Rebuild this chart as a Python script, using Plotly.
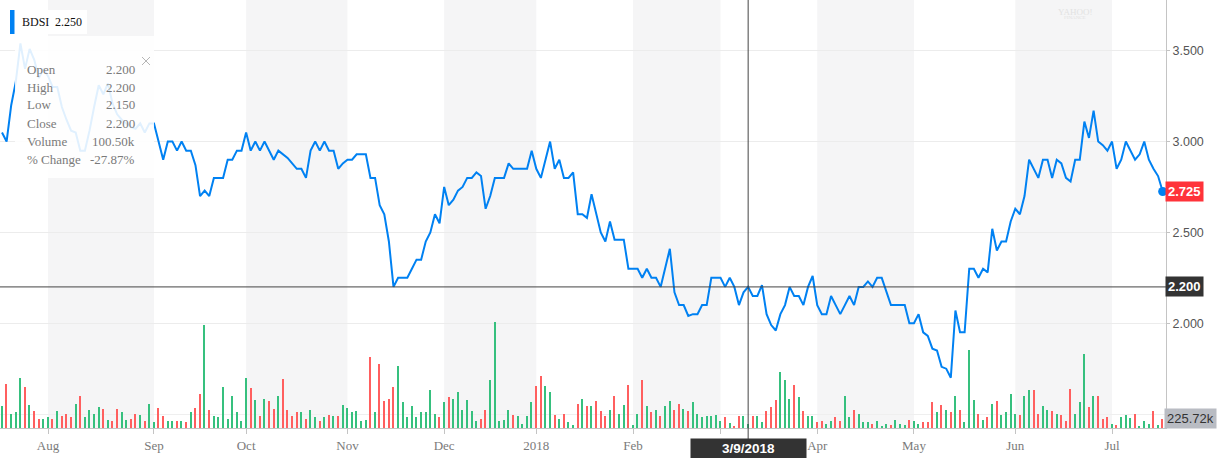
import plotly.graph_objects as go
import pandas as pd

# ---------------- data ----------------
ticker = "BDSI"
legend_value = "2.250"
start_date = "2017-07-18"
end_date = "2018-07-18"
holidays = ["2017-09-04", "2017-11-23", "2017-12-25", "2018-01-01", "2018-01-15",
            "2018-02-19", "2018-03-30", "2018-05-28", "2018-07-04"]

close = [
    3.05, 3.00, 3.20, 3.33, 3.54, 3.40, 3.51, 3.45, 3.35, 3.40,
    3.36, 3.30, 3.30, 3.19, 3.12, 3.06, 3.05, 2.95, 2.95, 3.06,
    3.19, 3.31, 3.26, 3.32, 3.21, 3.15, 3.12, 3.10, 3.08, 3.07,
    3.10, 3.05, 3.10, 3.10, 3.00, 2.90, 3.00, 3.00, 2.95, 3.00,
    2.95, 2.95, 2.87, 2.70, 2.73, 2.70, 2.80, 2.80, 2.80, 2.90,
    2.90, 2.95, 2.95, 3.05, 2.95, 3.00, 2.95, 3.00, 2.95, 2.90,
    2.95, 2.93, 2.91, 2.88, 2.85, 2.85, 2.80, 2.95, 3.00, 2.95,
    3.00, 2.95, 2.95, 2.85, 2.88, 2.90, 2.90, 2.93, 2.93, 2.93,
    2.80, 2.80, 2.65, 2.60, 2.45, 2.20, 2.25, 2.25, 2.25, 2.30,
    2.35, 2.35, 2.45, 2.50, 2.60, 2.55, 2.75, 2.65, 2.68, 2.73,
    2.75, 2.80, 2.80, 2.83, 2.81, 2.63, 2.70, 2.80, 2.80, 2.80,
    2.88, 2.85, 2.85, 2.85, 2.85, 2.95, 2.85, 2.80, 2.90, 3.00,
    2.85, 2.90, 2.80, 2.80, 2.83, 2.60, 2.60, 2.58, 2.71, 2.60,
    2.50, 2.45, 2.56, 2.46, 2.46, 2.46, 2.30, 2.30, 2.30, 2.25,
    2.30, 2.25, 2.25, 2.20, 2.31, 2.41, 2.17, 2.10, 2.10, 2.04,
    2.05, 2.05, 2.10, 2.10, 2.25, 2.25, 2.25, 2.20, 2.25, 2.20,
    2.10, 2.17, 2.20, 2.15, 2.15, 2.21, 2.05, 1.99, 1.96, 2.05,
    2.10, 2.20, 2.15, 2.15, 2.10, 2.20, 2.26, 2.10, 2.05, 2.05,
    2.15, 2.10, 2.05, 2.10, 2.15, 2.10, 2.20, 2.20, 2.23, 2.20,
    2.25, 2.25, 2.18, 2.10, 2.10, 2.10, 2.10, 2.00, 2.00, 2.05,
    1.95, 1.93, 1.86, 1.85, 1.76, 1.75, 1.70, 2.07, 1.95, 1.95,
    2.30, 2.30, 2.25, 2.30, 2.28, 2.52, 2.40, 2.45, 2.45, 2.56,
    2.63, 2.60, 2.70, 2.90, 2.85, 2.80, 2.90, 2.90, 2.80, 2.90,
    2.88, 2.80, 2.78, 2.90, 2.90, 3.11, 3.02, 3.17, 3.00, 2.98,
    2.95, 3.00, 2.85, 2.90, 3.00, 2.95, 2.90, 2.93, 3.00, 2.90,
    2.85, 2.81, 2.725,
]

volume_k = [
    543, 1100, 358, 393, 1243, 1018, 568, 418, 233, 233,
    268, 233, 418, 308, 358, 268, 593, 793, 268, 443,
    358, 518, 483, 208, 183, 483, 393, 208, 233, 358,
    333, 183, 593, 143, 508, 308, 168, 168, 183, 183,
    143, 393, 508, 858, 2575, 443, 308, 268, 1018, 233,
    793, 393, 183, 1243, 993, 708, 293, 733, 683, 483,
    808, 1218, 458, 293, 393, 393, 233, 458, 268, 168,
    268, 333, 293, 293, 568, 508, 393, 418, 183, 208,
    1768, 393, 1593, 668, 733, 1018, 1543, 643, 268, 543,
    268, 393, 393, 943, 358, 268, 643, 768, 733, 893,
    458, 708, 418, 183, 233, 458, 1193, 2650, 183, 208,
    443, 333, 293, 108, 308, 643, 1043, 1293, 1058, 893,
    333, 233, 358, 143, 83, 608, 733, 543, 543, 683,
    418, 308, 458, 793, 358, 583, 1068, 83, 358, 1208,
    543, 393, 458, 308, 543, 668, 458, 608, 483, 418,
    643, 358, 268, 293, 308, 333, 183, 275, 125, 58,
    293, 308, 100.5, 293, 308, 143, 418, 518, 693, 1393,
    1208, 733, 1068, 768, 418, 293, 293, 143, 183, 108,
    168, 275, 183, 793, 268, 458, 358, 143, 143, 108,
    168, 58, 108, 68, 193, 108, 83, 208, 183, 108,
    143, 143, 643, 393, 583, 458, 393, 808, 443, 143,
    1958, 708, 358, 208, 268, 608, 668, 333, 393, 850,
    358, 333, 793, 958, 943, 358, 543, 458, 418, 358,
    333, 168, 983, 358, 643, 1858, 518, 808, 793, 233,
    268, 108, 83, 268, 333, 250, 358, 58, 183, 108,
    418, 83, 225.72,
]

# G = up day (green bar), R = down day (red bar)
vol_dir = ("GRGGGRGRRG" "GRGRRRGRGG" "GGRGRRGGRR" "GRGGRRGGRG" "RGRRGRGGGG"
           "GGGGRGRGRR" "GRRRRGRGGR" "GRGRGGGGGG" "RGRRRRGGGG" "GGGGGRGRGG"
           "GGGGRRGGGG" "GRGGGGRRGG" "RGRGGRGRGR" "RRGRGGRGGR" "GRGRGGRRGR"
           "GGGGGGGRGR" "RGGRGGRRRG" "GGRGRGGRRG" "GRRGGRGGGR" "GGGRGGGRGG"
           "RRRGRGRGRG" "GGRGRGRGGG" "GRGGRRGGRG" "RRRGGGRGRR" "RGRGGGRGGG"
           "RGR")

price_ticks = [2.0, 2.5, 3.0, 3.5]
price_range = [1.4235, 3.779]
volume_range = [0, 10700]
volume_grid = [350]
cursor_index = 162
cursor_open = 2.200
cursor_high = 2.200
cursor_low = 2.150

# ---------------- derived ----------------
dates = [d for d in pd.bdate_range(start_date, end_date) if d.strftime("%Y-%m-%d") not in holidays]
n = min(len(dates), len(close), len(volume_k), len(vol_dir))
dates = dates[:n]
close = close[:n]
volume_k = volume_k[:n]
idx = list(range(n))

tick_idx, tick_txt = [], []
for i in range(1, n):
    if dates[i].month != dates[i - 1].month:
        tick_idx.append(i)
        tick_txt.append(str(dates[i].year) if dates[i].month == 1 else dates[i].strftime("%b"))

x_range = [-0.434, (n - 1) + 0.72]

GREEN = "#36c07e"
RED = "#ff5f5f"
BLUE = "#0081f2"
bar_colors = [GREEN if c == "G" else RED for c in vol_dir[:n]]

W, H = 1220, 458
ML, MR, MT, MB = 0, 54, 0, 30
PW, PH = W - ML - MR, H - MT - MB


def px_x(px):
    return px / PW


def px_y(py):
    return 1 - py / PH


fig = go.Figure()

fig.add_trace(go.Bar(x=idx, y=volume_k, marker=dict(color=bar_colors, line=dict(width=0)),
                     width=0.3, yaxis="y", hoverinfo="skip"))
fig.add_trace(go.Scatter(x=idx, y=close, mode="lines", line=dict(color=BLUE, width=2),
                         yaxis="y2", hoverinfo="skip"))
fig.add_trace(go.Scatter(x=[idx[-1]], y=[close[-1]], mode="markers",
                         marker=dict(color=BLUE, size=9), yaxis="y2", cliponaxis=False,
                         hoverinfo="skip"))

shapes = []
# alternate month shading
shade_months = {8, 10, 12, 2, 4, 6}
for k, ti in enumerate(tick_idx):
    if dates[ti].month in shade_months:
        x1 = tick_idx[k + 1] if k + 1 < len(tick_idx) else x_range[1]
        shapes.append(dict(type="rect", xref="x", yref="paper", x0=ti, x1=x1, y0=0, y1=1,
                           fillcolor="#f5f5f6", line=dict(width=0), layer="below"))

# crosshair
shapes.append(dict(type="line", xref="paper", yref="y2", x0=0, x1=1,
                   y0=close[cursor_index], y1=close[cursor_index],
                   line=dict(color="#444", width=1), layer="above"))
shapes.append(dict(type="line", xref="x", yref="paper", x0=cursor_index, x1=cursor_index,
                   y0=px_y(440), y1=1, line=dict(color="#444", width=1), layer="above"))

# tooltip panel
shapes.append(dict(type="rect", xref="paper", yref="paper", x0=px_x(15), x1=px_x(154),
                   y0=px_y(178), y1=px_y(36), fillcolor="rgba(255,255,255,0.88)",
                   line=dict(width=0), layer="above"))
# close cross of panel
for (a, b, c, d) in [(142, 57, 150, 65), (142, 65, 150, 57)]:
    shapes.append(dict(type="line", xref="paper", yref="paper", x0=px_x(a), x1=px_x(c),
                       y0=px_y(b), y1=px_y(d), line=dict(color="#b5b5b5", width=1), layer="above"))

# legend box
shapes.append(dict(type="rect", xref="paper", yref="paper", x0=px_x(10), x1=px_x(87),
                   y0=px_y(34), y1=px_y(10), fillcolor="white", line=dict(width=0), layer="above"))
shapes.append(dict(type="rect", xref="paper", yref="paper", x0=px_x(10), x1=px_x(14.5),
                   y0=px_y(34), y1=px_y(10), fillcolor=BLUE, line=dict(width=0), layer="above"))

SERIF = "Liberation Serif"
SANS = "Liberation Sans"

annotations = []
annotations.append(dict(text=ticker, xref="paper", yref="paper", x=px_x(20), y=px_y(22),
                        xanchor="left", yanchor="middle", showarrow=False,
                        font=dict(family=SERIF, size=12, color="#111")))
annotations.append(dict(text=legend_value, xref="paper", yref="paper", x=px_x(53), y=px_y(22),
                        xanchor="left", yanchor="middle", showarrow=False,
                        font=dict(family=SERIF, size=12, color="#111")))

rows = [
    ("Open", f"{cursor_open:.3f}"),
    ("High", f"{cursor_high:.3f}"),
    ("Low", f"{cursor_low:.3f}"),
    ("Close", f"{close[cursor_index]:.3f}"),
    ("Volume", f"{volume_k[cursor_index]:.2f}k"),
    ("% Change", f"{(close[cursor_index] / close[0] - 1) * 100:.2f}%"),
]
for r, (lab, val) in enumerate(rows):
    yy = px_y(69 + 18 * r)
    annotations.append(dict(text=lab, xref="paper", yref="paper", x=px_x(25), y=yy,
                            xanchor="left", yanchor="middle", showarrow=False,
                            font=dict(family=SERIF, size=13, color="#7a7a7a")))
    annotations.append(dict(text=val, xref="paper", yref="paper", x=px_x(137), y=yy,
                            xanchor="right", yanchor="middle", showarrow=False,
                            font=dict(family=SERIF, size=13, color="#7a7a7a")))

# watermark
annotations.append(dict(text="YAHOO!", xref="paper", yref="paper", x=px_x(1075), y=px_y(12),
                        xanchor="center", yanchor="middle", showarrow=False,
                        font=dict(family=SERIF, size=9, color="#e2e2e2")))
annotations.append(dict(text="FINANCE", xref="paper", yref="paper", x=px_x(1075), y=px_y(18),
                        xanchor="center", yanchor="middle", showarrow=False,
                        font=dict(family=SERIF, size=5, color="#e2e2e2")))

# right side value boxes
annotations.append(dict(text=f"<b>{close[-1]:.3f}</b>", xref="paper", yref="y2", x=1, y=close[-1],
                        xanchor="left", yanchor="middle", xshift=-1, showarrow=False,
                        bgcolor="#ff333a", borderpad=2,
                        font=dict(family=SANS, size=13, color="white")))
annotations.append(dict(text=f"<b>{close[cursor_index]:.3f}</b>", xref="paper", yref="y2", x=1,
                        y=close[cursor_index], xanchor="left", yanchor="middle", xshift=-1,
                        showarrow=False, bgcolor="#333333", borderpad=2,
                        font=dict(family=SANS, size=13, color="white")))
annotations.append(dict(text=f"{volume_k[-1]:.2f}k", xref="paper", yref="y", x=1, y=volume_k[-1],
                        xanchor="left", yanchor="middle", xshift=-2, showarrow=False,
                        bgcolor="#b9bcc3", borderpad=2,
                        font=dict(family=SANS, size=13, color="#333")))

# date box
cd = dates[cursor_index]
annotations.append(dict(text=f"<b>{cd.month}/{cd.day}/{cd.year}</b>", xref="x", yref="paper",
                        x=cursor_index, y=px_y(448.8), xanchor="center", yanchor="middle",
                        showarrow=False, bgcolor="#333333", width=113, height=17, borderpad=1,
                        font=dict(family=SANS, size=13.5, color="white")))

fig.update_layout(
    width=W, height=H,
    margin=dict(l=ML, r=MR, t=MT, b=MB, pad=0),
    paper_bgcolor="white", plot_bgcolor="white",
    showlegend=False, bargap=0,
    shapes=shapes, annotations=annotations,
    xaxis=dict(range=x_range, tickvals=tick_idx, ticktext=tick_txt, ticks="outside",
               ticklen=5, tickcolor="#c4c4c4", showline=True, linecolor="#c4c4c4", linewidth=1,
               showgrid=False, zeroline=False, anchor="y",
               tickfont=dict(family=SERIF, size=13, color="#7a7a7a")),
    yaxis=dict(range=volume_range, tickvals=volume_grid, showticklabels=False, ticks="",
               showgrid=True, gridcolor="#efefef", zeroline=False, showline=False,
               fixedrange=True),
    yaxis2=dict(range=price_range, overlaying="y", side="right", anchor="x",
                tickvals=price_ticks, ticktext=[f"{v:.3f}" for v in price_ticks],
                showgrid=True, gridcolor="#ececec", zeroline=False,
                showline=True, linecolor="#c4c4c4", linewidth=1,
                ticks="outside", ticklen=3, tickcolor="#c4c4c4",
                tickfont=dict(family=SANS, size=12.5, color="#555")),
)

fig.write_html("out.html", config={"displayModeBar": False},
               post_script="document.body.style.margin='0px';document.body.style.padding='0px';")
